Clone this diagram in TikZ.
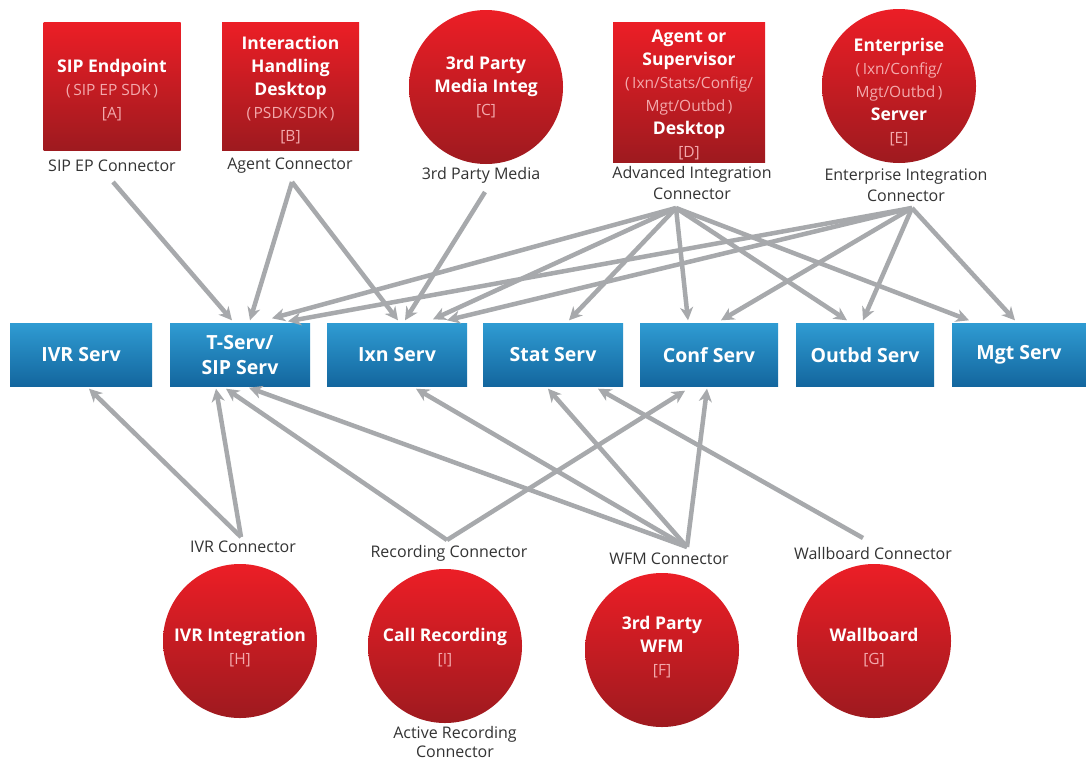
\documentclass[tikz,border=0pt]{standalone}
\usepackage{fontspec}
\setmainfont{Open Sans}
\usetikzlibrary{arrows.meta,calc}
\definecolor{redtop}{HTML}{EC1E26}
\definecolor{redbot}{HTML}{9E1A1F}
\definecolor{bluetop}{HTML}{2F9BD2}
\definecolor{bluebot}{HTML}{13669E}
\definecolor{conn}{HTML}{A7A9AC}
\definecolor{pinkt}{HTML}{F3A9AC}
\definecolor{labc}{HTML}{333333}
\newcommand\mysub[1]{{\fontsize{15.5}{23}\selectfont\mdseries\color{pinkt}#1}}
\begin{document}
\begin{tikzpicture}[x=1pt,y=-1pt,
  redbox/.style={rectangle, top color=redtop, bottom color=redbot, draw=none, inner sep=0pt},
  redcirc/.style={circle, top color=redtop, bottom color=redbot, draw=none, minimum size=154pt, inner sep=0pt},
  bluebox/.style={rectangle, top color=bluetop, bottom color=bluebot, draw=none, minimum height=63pt, inner sep=0pt, text=white, font=\fontsize{19.5}{25}\selectfont\bfseries, align=center},
  intxt/.style={text=white, align=center, font=\fontsize{17.5}{23}\selectfont\bfseries, inner sep=0pt},
  lab/.style={text=labc, align=center, font=\fontsize{16}{21.5}\selectfont, inner sep=0pt},
  arr/.style={draw=conn, line width=4.5pt, -{Stealth[length=13pt,width=13pt,inset=4pt]}}
]
\useasboundingbox[fill=white] (0,0) rectangle (1086,761);

% ---------- top shapes ----------
\node[redbox, minimum width=137pt, minimum height=128pt] (A) at (112,86) {};
\node[intxt] (At) at (112,90.5) {SIP Endpoint\\ \mysub{(\,SIP EP SDK\,)}\\ \mysub{[A]}};
\node[redbox, minimum width=137pt, minimum height=128pt] (B) at (290.5,86) {};
\node[intxt] (Bt) at (290.5,90) {Interaction\\ Handling\\ Desktop\\ \mysub{(\,PSDK/SDK\,)}\\ \mysub{[B]}};
\node[redcirc] (C) at (486,87) {};
\node[intxt] (Ct) at (486,87) {3rd Party\\ Media Integ\\ \mysub{[C]}};
\node[redbox, minimum width=152pt, minimum height=140pt] (D) at (689,92) {};
\node[intxt] (Dt) at (689,94.5) {Agent or\\ Supervisor\\ \mysub{(\,Ixn/Stats/Config/}\\ \mysub{Mgt/Outbd\,)}\\ Desktop\\ \mysub{[D]}};
\node[redcirc] (E) at (899,86) {};
\node[intxt] (Et) at (899,92.5) {Enterprise\\ \mysub{(\,Ixn/Config/}\\ \mysub{Mgt/Outbd\,)}\\ Server\\ \mysub{[E]}};

% ---------- top labels ----------
\node[lab] (Al) at (112,166) {SIP EP Connector};
\node[lab] (Bl) at (290,166) {Agent Connector};
\node[lab] (Cl) at (481,175) {3rd Party Media};
\node[lab] (Dl) at (692,183) {Advanced Integration\\Connector};
\node[lab] (El) at (906,185) {Enterprise Integration\\Connector};

% ---------- server row ----------
\node[bluebox, minimum width=142pt] (ivr) at (81,355) {IVR Serv};
\node[bluebox, minimum width=140pt] (ts) at (240,355) {T-Serv/\\SIP Serv};
\node[bluebox, minimum width=140pt] (ixn) at (397,355) {Ixn Serv};
\node[bluebox, minimum width=140pt] (stat) at (553,355) {Stat Serv};
\node[bluebox, minimum width=138pt] (conf) at (709,355) {Conf Serv};
\node[bluebox, minimum width=138pt] (outbd) at (865,355) {Outbd Serv};
\node[bluebox, minimum width=134pt] (mgt) at (1019,355) {Mgt Serv};

% ---------- bottom shapes ----------
\node[redcirc] (H) at (240,641) {};
\node[intxt] (Ht) at (240,647.5) {IVR Integration\\ \mysub{[H]}};
\node[redcirc] (I) at (445,646) {};
\node[intxt] (It) at (445,647.5) {Call Recording\\ \mysub{[I]}};
\node[redcirc] (F) at (662,650) {};
\node[intxt] (Ft) at (662,647.5) {3rd Party\\ WFM\\ \mysub{[F]}};
\node[redcirc] (G) at (874,641) {};
\node[intxt] (Gt) at (874,647.5) {Wallboard\\ \mysub{[G]}};

% ---------- bottom labels ----------
\node[lab] (Hl) at (243,547) {IVR Connector};
\node[lab] (Il) at (449,553) {Recording Connector};
\node[lab] (Fl) at (669,559) {WFM Connector};
\node[lab] (Gl) at (873,553) {Wallboard Connector};
\node[lab, font=\fontsize{16}{19.5}\selectfont] (Il2) at (455,742) {Active Recording\\Connector};

% ---------- connector apexes ----------
\coordinate (sipc) at (113,182);
\coordinate (agc) at (292,182);
\coordinate (tpm) at (485,192);
\coordinate (advc) at (676,208);
\coordinate (entc) at (912,208);
\coordinate (ivrc) at (241,537);
\coordinate (recc) at (447,540);
\coordinate (wfmc) at (687,547);
\coordinate (wbc) at (863,538);

% ---------- top connectors ----------
\draw[arr] (sipc) -- ($(ts.north)+(-8,-3)$);
\draw[arr] (agc) -- ($(ts.north)+(10,-3)$);
\draw[arr] (agc) -- ($(ixn.north)+(1,-3)$);
\draw[arr] (tpm) -- ($(ixn.north)+(8,-3)$);
\draw[arr] (advc) -- ($(ts.north)+(32,-5)$);
\draw[arr] (advc) -- ($(ixn.north)+(36,-4)$);
\draw[arr] (advc) -- ($(stat.north)+(16,-3)$);
\draw[arr] (advc) -- ($(conf.north)+(-21,-3)$);
\draw[arr] (advc) -- ($(outbd.north)+(-18,-3)$);
\draw[arr] (advc) -- ($(mgt.north)+(-50,-3)$);
\draw[arr] (entc) -- ($(ts.north)+(48,-2)$);
\draw[arr] (entc) -- ($(ixn.north)+(50,-3)$);
\draw[arr] (entc) -- ($(conf.north)+(12,-3)$);
\draw[arr] (entc) -- ($(outbd.north)+(-2,-3)$);
\draw[arr] (entc) -- ($(mgt.north)+(-4,-3)$);

% ---------- bottom connectors ----------
\draw[arr] (ivrc) -- ($(ivr.south)+(8,2)$);
\draw[arr] (ivrc) -- ($(ts.south)+(-24,2)$);
\draw[arr] (recc) -- ($(ts.south)+(-14,2)$);
\draw[arr] (recc) -- ($(conf.south)+(-24,4)$);
\draw[arr] (wfmc) -- ($(ts.south)+(9,1)$);
\draw[arr] (wfmc) -- ($(ixn.south)+(19,2)$);
\draw[arr] (wfmc) -- ($(stat.south)+(-5,2)$);
\draw[arr] (wfmc) -- ($(conf.south)+(-2,2)$);
\draw[arr] (wbc) -- ($(stat.south)+(45,2)$);
\end{tikzpicture}
\end{document}
